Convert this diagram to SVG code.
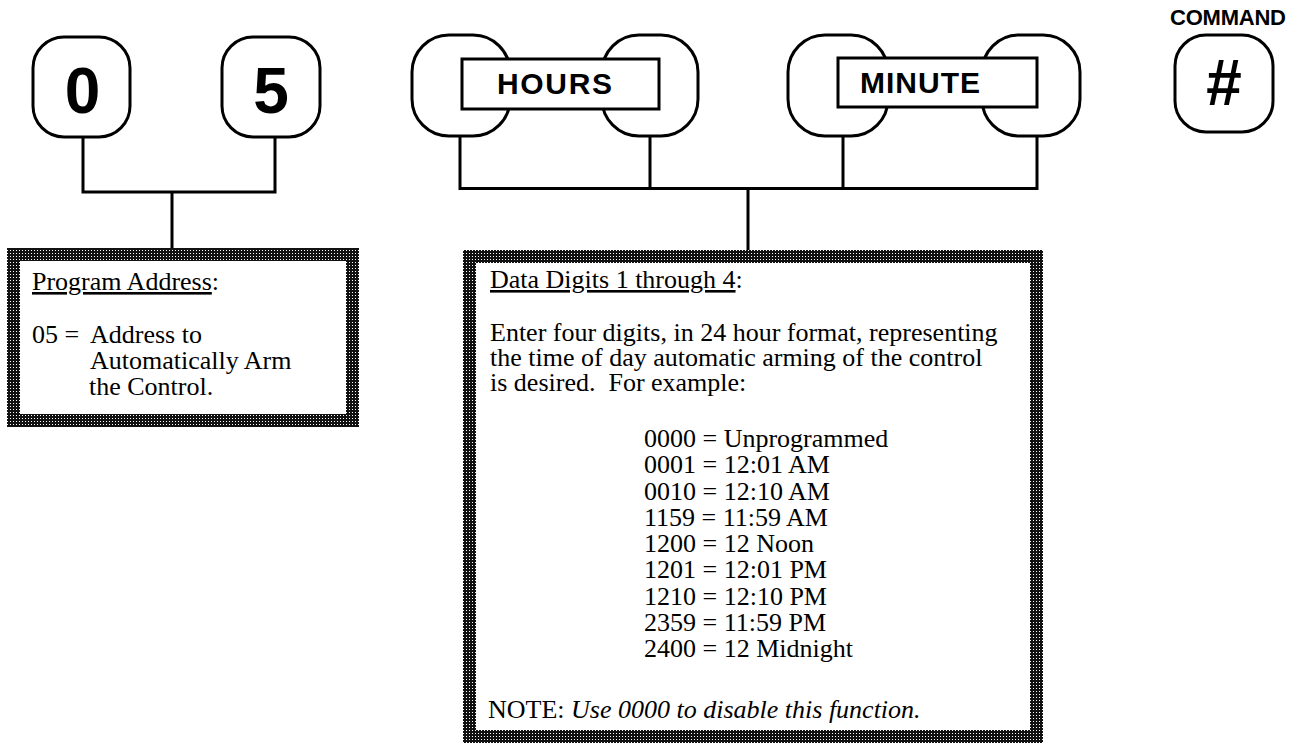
<svg xmlns="http://www.w3.org/2000/svg" width="1297" height="744" viewBox="0 0 1297 744">
<defs>
<pattern id="halftone" width="3" height="3" patternUnits="userSpaceOnUse">
<rect width="3" height="3" fill="#111"/>
<rect x="1" y="1" width="1" height="1" fill="#fff"/>
</pattern>
<style>
.key{fill:#fff;stroke:#000;stroke-width:3}
.lbl{fill:#fff;stroke:#000;stroke-width:3}
.kbig{font-family:"Liberation Sans",Arial,sans-serif;font-weight:bold;font-size:64px;fill:#000;text-anchor:middle}
.kword{font-family:"Liberation Sans",Arial,sans-serif;font-weight:bold;font-size:30px;fill:#000}
.cmd{font-family:"Liberation Sans",Arial,sans-serif;font-weight:bold;font-size:22px;fill:#000}
.box{fill:#fff;stroke:url(#halftone);stroke-width:13}
.t{font-family:"Liberation Serif","Times New Roman",serif;font-size:26px;fill:#000}
.u{text-decoration:underline}
.conn{fill:none;stroke:#000;stroke-width:3}
</style>
</defs>
<rect width="1297" height="744" fill="#fff"/>

<g id="connectors">
<path class="conn" d="M83 137 V192 H275 V137"/>
<path class="conn" d="M172 192 V248"/>
<path class="conn" d="M460 136 V188.5 H1037 V136"/>
<path class="conn" d="M650 136 V188.5"/>
<path class="conn" d="M843 136 V188.5"/>
<path class="conn" d="M748 188.5 V250"/>
</g>

<g id="key-0">
<rect class="key" x="33" y="37" width="97" height="100" rx="31"/>
<text class="kbig" x="82.5" y="113">0</text>
</g>
<g id="key-5">
<rect class="key" x="222" y="37" width="98" height="100" rx="31"/>
<text class="kbig" x="271" y="113">5</text>
</g>
<g id="key-hours">
<rect class="key" x="412" y="35" width="98" height="101" rx="37"/>
<rect class="key" x="602" y="35" width="96" height="101" rx="37"/>
<rect class="lbl" x="462" y="59" width="197" height="50"/>
<text class="kword" x="497" y="94" textLength="115">HOURS</text>
</g>
<g id="key-minute">
<rect class="key" x="788" y="35" width="100" height="101" rx="37"/>
<rect class="key" x="982" y="35" width="98" height="101" rx="37"/>
<rect class="lbl" x="838" y="58" width="199" height="49"/>
<text class="kword" x="860" y="93" textLength="120">MINUTE</text>
</g>
<g id="key-command">
<text class="cmd" x="1170" y="25" textLength="116">COMMAND</text>
<rect class="key" x="1175" y="35" width="98" height="97" rx="31"/>
<text class="kbig" x="1223" y="105" font-style="italic" font-size="60">#</text>
</g>

<g id="program-address">
<rect class="box" x="13.5" y="254.5" width="339" height="166"/>
<text class="t" x="32" y="290"><tspan class="u">Program Address</tspan>:</text>
<text class="t" x="32" y="343">05 =</text>
<text class="t" x="90" y="343">Address to</text>
<text class="t" x="90" y="369">Automatically Arm</text>
<text class="t" x="89" y="395">the Control.</text>
</g>

<g id="data-digits">
<rect class="box" x="469.5" y="256.5" width="567" height="480"/>
<text class="t" x="490" y="288"><tspan class="u">Data Digits 1 through 4</tspan>:</text>
<text class="t" x="490" y="341">Enter four digits, in 24 hour format, representing</text>
<text class="t" x="490" y="366">the time of day automatic arming of the control</text>
<text class="t" x="490" y="391">is desired.&#160; For example:</text>
<text class="t" x="644" y="447">0000 = Unprogrammed</text>
<text class="t" x="644" y="473">0001 = 12:01 AM</text>
<text class="t" x="644" y="499.5">0010 = 12:10 AM</text>
<text class="t" x="644" y="525.5">1159 = 11:59 AM</text>
<text class="t" x="644" y="552">1200 = 12 Noon</text>
<text class="t" x="644" y="578">1201 = 12:01 PM</text>
<text class="t" x="644" y="604.5">1210 = 12:10 PM</text>
<text class="t" x="644" y="630.5">2359 = 11:59 PM</text>
<text class="t" x="644" y="657">2400 = 12 Midnight</text>
<text class="t" x="488" y="718">NOTE: <tspan font-style="italic">Use 0000 to disable this function.</tspan></text>
</g>
</svg>
